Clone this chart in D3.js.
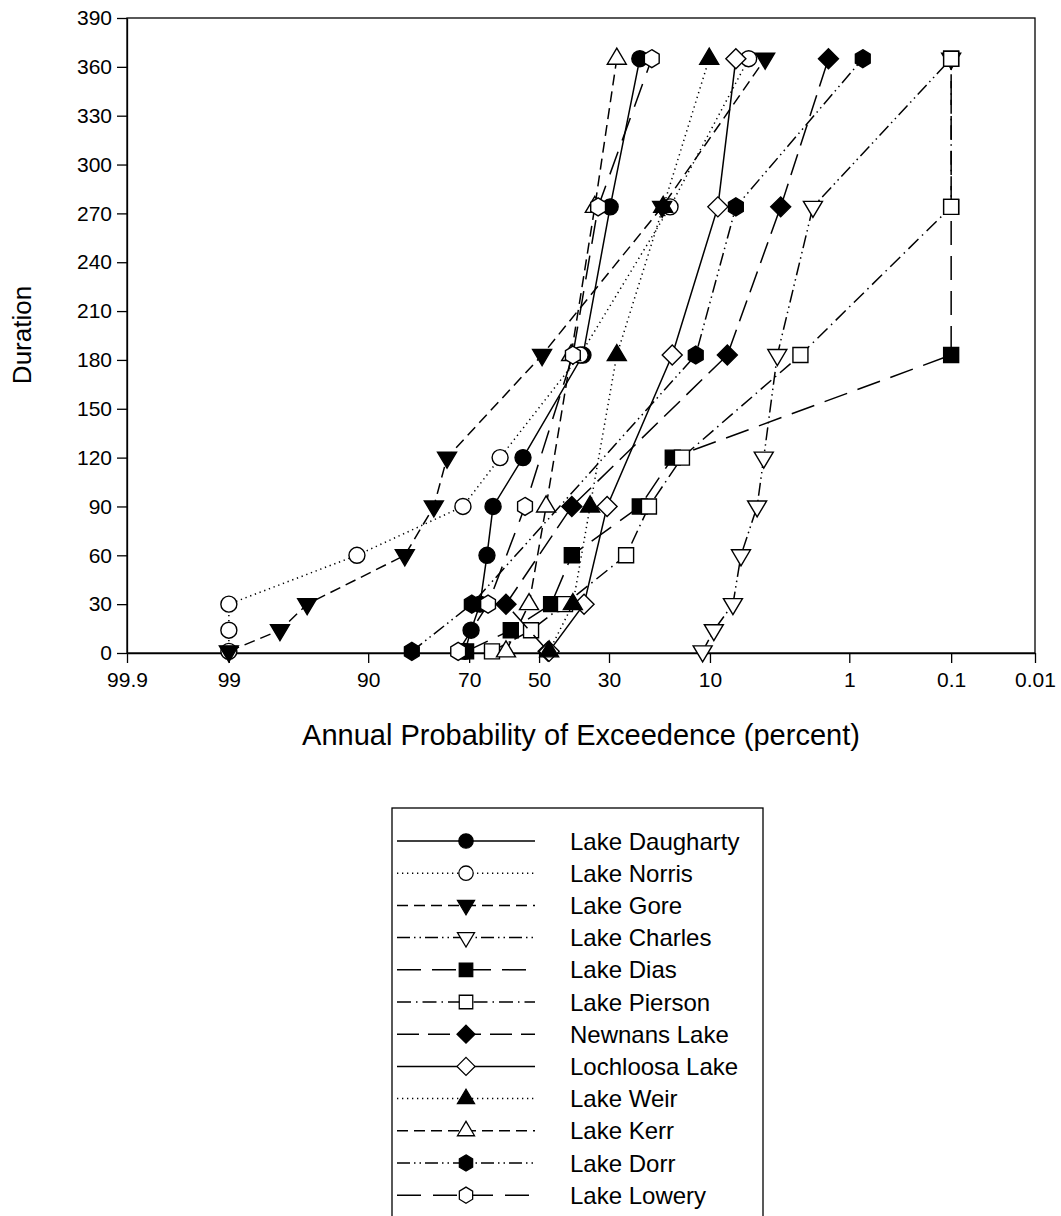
<!DOCTYPE html>
<html>
<head>
<meta charset="UTF-8">
<title>Duration vs annual probability of exceedence</title>
<style>
  body { margin: 0; background: #fff; }
  svg { display: block; font-family: "Liberation Sans", Arial, sans-serif; }
  .axis text { font-size: 21px; fill: #000; }
  .axis path, .axis line { stroke: #000; stroke-width: 1.3; }
</style>
</head>
<body>
<div id="chart"></div>
<script src="https://d3js.org/d3.v7.min.js"></script>
<script>
// durations (days) and exceedance probability (percent) per lake; null = no point
const durations = [1, 14, 30, 60, 90, 120, 183, 274, 365];
const lakes = ["Lake Daugharty", "Lake Norris", "Lake Gore", "Lake Charles", "Lake Dias", "Lake Pierson",
               "Newnans Lake", "Lochloosa Lake", "Lake Weir", "Lake Kerr", "Lake Dorr", "Lake Lowery"];
const daugharty = [71.1, 69.5, 67.1, 65.2, 63.5, 54.8, 37.1, 29.7, 22.5];
const norris    = [99, 99, 99, 91.4, 71.6, 61.5, 37.9, 16.3, 5.8];
const gore      = [99, 97.4, 95.9, 84.3, 78.5, 75.5, 49.1, 17.8, 4.5];
const charles   = [11.0, 9.5, 7.3, 6.5, 5.1, 4.6, 3.7, 2.0, 0.1];
const dias      = [70.8, 58.4, 46.4, 40.3, 22.5, 15.8, 0.1, 0.1, 0.1];
const pierson   = [63.8, 52.4, 42.3, 25.7, 20.5, 14.2, 2.5, 0.1, 0.1];
const newnans   = [47.3, null, 59.8, null, 40.3, null, 7.9, 3.5, 1.5];
const lochloosa = [47.0, null, 36.8, null, 30.5, null, 15.9, 9.0, 7.0];
const weir      = [47.0, null, 40.0, null, 35.1, null, 28.0, 17.6, 10.1];
const kerr      = [59.8, null, 53.0, null, 47.9, null, 40.5, 33.8, 28.0];
const dorr      = [83.0, null, 69.3, null, null, null, 12.0, 7.0, 0.76];
const lowery    = [72.8, null, 64.9, null, 54.2, null, 40.0, 32.9, 19.9];
const values = [daugharty, norris, gore, charles, dias, pierson, newnans, lochloosa, weir, kerr, dorr, lowery];

const xTicks = [99.9, 99, 90, 70, 50, 30, 10, 1, 0.1, 0.01];
const xTickLabels = ["99.9", "99", "90", "70", "50", "30", "10", "1", "0.1", "0.01"];
const yTicks = [0, 30, 60, 90, 120, 150, 180, 210, 240, 270, 300, 330, 360, 390];

// look of each series
const styles = [
  {sym: "circle", fill: true,  dash: null},
  {sym: "circle", fill: false, dash: "1.3,3.7"},
  {sym: "tdown",  fill: true,  dash: "11,6"},
  {sym: "tdown",  fill: false, dash: "13,4,1.5,4,1.5,4"},
  {sym: "square", fill: true,  dash: "24,11"},
  {sym: "square", fill: false, dash: "14,5,1.5,5"},
  {sym: "diamond", fill: true, dash: "22,9"},
  {sym: "diamond", fill: false, dash: null},
  {sym: "tup",    fill: true,  dash: "1.3,3.7"},
  {sym: "tup",    fill: false, dash: "11,6"},
  {sym: "hex",    fill: true,  dash: "13,4,1.5,4,1.5,4"},
  {sym: "hex",    fill: false, dash: "24,12"}
];

// inverse normal cdf (Acklam)
function probit(p) {
  const a = [-3.969683028665376e+01, 2.209460984245205e+02, -2.759285104469687e+02, 1.383577518672690e+02, -3.066479806614716e+01, 2.506628277459239e+00];
  const b = [-5.447609879822406e+01, 1.615858368580409e+02, -1.556989798598866e+02, 6.680131188771972e+01, -1.328068155288572e+01];
  const c = [-7.784894002430293e-03, -3.223964580411365e-01, -2.400758277161838e+00, -2.549732539343734e+00, 4.374664141464968e+00, 2.938163982698783e+00];
  const d = [7.784695709041462e-03, 3.224671290700398e-01, 2.445134137142996e+00, 3.754408661907416e+00];
  const pl = 0.02425;
  let q, r;
  if (p < pl) {
    q = Math.sqrt(-2 * Math.log(p));
    return (((((c[0]*q+c[1])*q+c[2])*q+c[3])*q+c[4])*q+c[5]) / ((((d[0]*q+d[1])*q+d[2])*q+d[3])*q+1);
  }
  if (p <= 1 - pl) {
    q = p - 0.5; r = q * q;
    return (((((a[0]*r+a[1])*r+a[2])*r+a[3])*r+a[4])*r+a[5])*q / (((((b[0]*r+b[1])*r+b[2])*r+b[3])*r+b[4])*r+1);
  }
  q = Math.sqrt(-2 * Math.log(1 - p));
  return -(((((c[0]*q+c[1])*q+c[2])*q+c[3])*q+c[4])*q+c[5]) / ((((d[0]*q+d[1])*q+d[2])*q+d[3])*q+1);
}
const zOf = pct => probit(1 - pct / 100);

function symbolPath(type) {
  switch (type) {
    case "circle": return "M8,0A8,8 0 1,1 -8,0A8,8 0 1,1 8,0Z";
    case "tdown": return "M-9.5,-5.5L9.5,-5.5L0,10.5Z";
    case "tup": return "M-9.5,5.5L9.5,5.5L0,-10.5Z";
    case "square": return "M-7.5,-7.5H7.5V7.5H-7.5Z";
    case "diamond": return "M0,-10L10,0L0,10L-10,0Z";
    case "hex": {
      const r = 9;
      return d3.range(6).map((i, k) => {
        const a = Math.PI / 3 * i - Math.PI / 2;
        return (k ? "L" : "M") + (r * Math.cos(a) * 0.95).toFixed(2) + "," + (r * Math.sin(a)).toFixed(2);
      }).join("") + "Z";
    }
  }
}

const width = 1061, height = 1216;
const plotL = 127, plotR = 1035, plotT = 18, plotB = 653;

const svg = d3.select("#chart").append("svg").attr("width", width).attr("height", height);

const x = d3.scaleLinear().domain([zOf(99.9), zOf(0.01)]).range([plotL, plotR]);
const y = d3.scaleLinear().domain([0, 390]).range([plotB, plotT]);

// frame
svg.append("rect").attr("x", plotL).attr("y", plotT).attr("width", plotR - plotL).attr("height", plotB - plotT)
  .attr("fill", "none").attr("stroke", "#000").attr("stroke-width", 1.3);

svg.append("g").attr("class", "axis").attr("transform", `translate(0,${plotB})`)
  .call(d3.axisBottom(x).tickValues(xTicks.map(zOf)).tickFormat((d, i) => xTickLabels[i])
    .tickSize(10).tickSizeOuter(0).tickPadding(9));

svg.append("g").attr("class", "axis").attr("transform", `translate(${plotL},0)`)
  .call(d3.axisLeft(y).tickValues(yTicks).tickSize(10).tickSizeOuter(0).tickPadding(5));

svg.append("text").attr("x", 581).attr("y", 745).attr("text-anchor", "middle")
  .attr("font-size", 29).text("Annual Probability of Exceedence (percent)");
svg.append("text").attr("transform", "translate(31,335) rotate(-90)").attr("text-anchor", "middle")
  .attr("font-size", 26).text("Duration");

const line = d3.line().x(d => x(zOf(d.p))).y(d => y(d.t));

lakes.forEach((name, i) => {
  const pts = durations.map((t, j) => ({t, p: values[i][j]})).filter(d => d.p != null);
  const st = styles[i];
  const g = svg.append("g");
  g.append("path").attr("d", line(pts)).attr("fill", "none").attr("stroke", "#000")
    .attr("stroke-width", 1.5).attr("stroke-dasharray", st.dash);
  g.selectAll("path.m").data(pts).join("path").attr("class", "m")
    .attr("d", symbolPath(st.sym))
    .attr("transform", d => `translate(${x(zOf(d.p))},${y(d.t)})`)
    .attr("fill", st.fill ? "#000" : "#fff").attr("stroke", "#000").attr("stroke-width", 1.4);
});

// legend
const lg = svg.append("g");
lg.append("rect").attr("x", 392).attr("y", 808).attr("width", 371).attr("height", 430)
  .attr("fill", "none").attr("stroke", "#000").attr("stroke-width", 1.3);
lakes.forEach((name, i) => {
  const st = styles[i];
  const cy = 841 + i * 32.2;
  lg.append("line").attr("x1", 397).attr("x2", 535).attr("y1", cy).attr("y2", cy)
    .attr("stroke", "#000").attr("stroke-width", 1.5).attr("stroke-dasharray", st.dash);
  lg.append("path").attr("d", symbolPath(st.sym)).attr("transform", `translate(466,${cy}) scale(0.9)`)
    .attr("fill", st.fill ? "#000" : "#fff").attr("stroke", "#000").attr("stroke-width", 1.4);
  lg.append("text").attr("x", 570).attr("y", cy).attr("dy", "0.36em").attr("font-size", 24).text(name);
});
</script>
</body>
</html>
